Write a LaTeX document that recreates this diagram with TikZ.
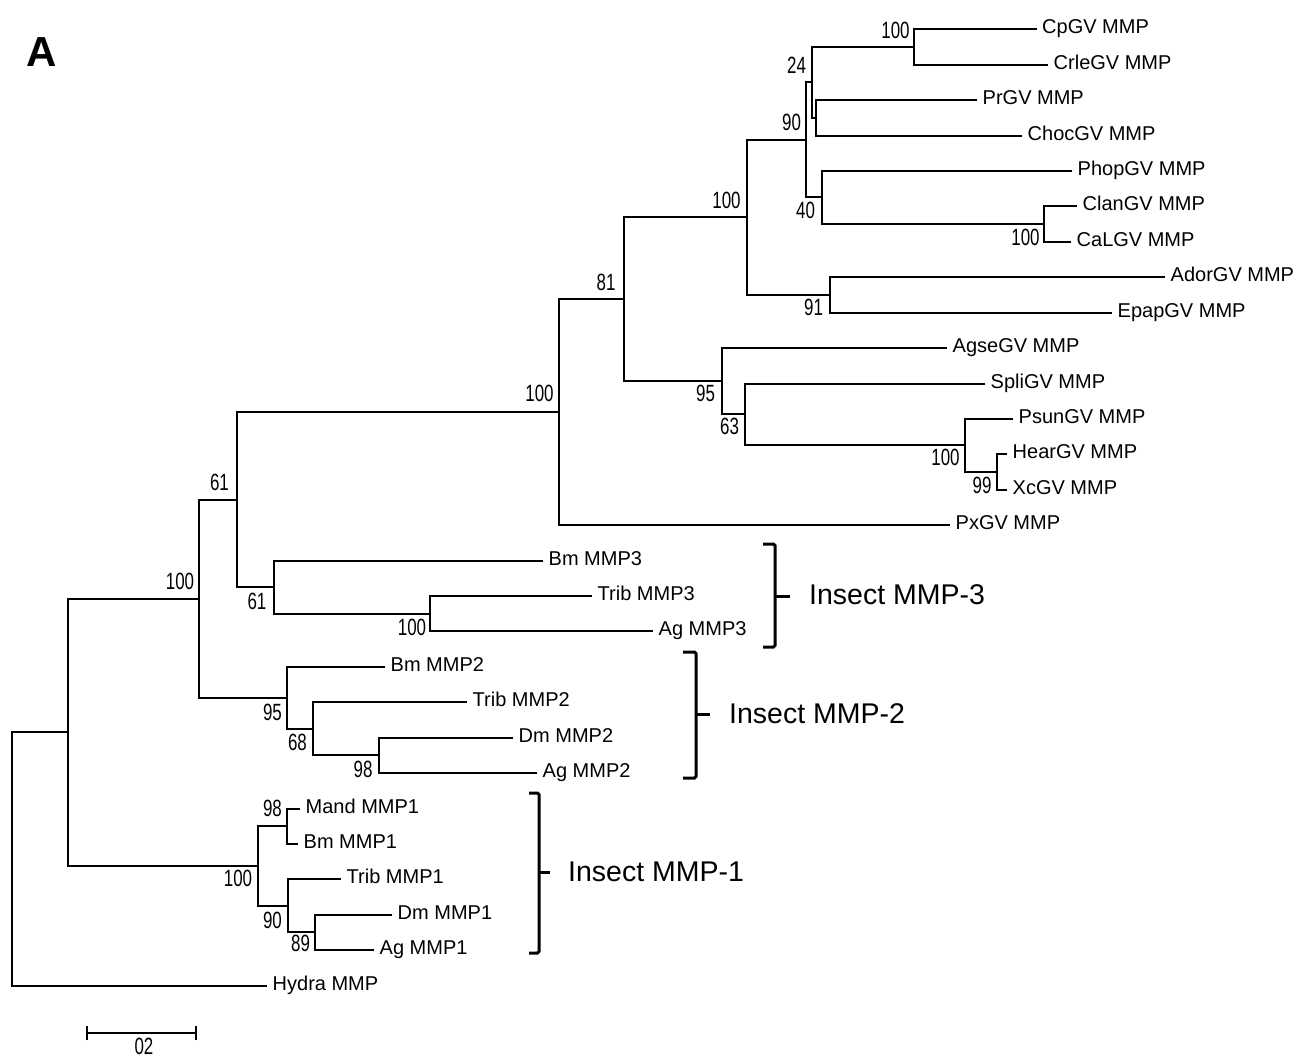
\documentclass[tikz,border=0pt]{standalone}
\usepackage{fontspec}
\setmainfont{Liberation Sans}
\newfontfamily\bsfont[FakeStretch=0.72]{Liberation Sans}
\begin{document}
\begin{tikzpicture}[x=1pt,y=-1pt,
  br/.style={line width=2pt, line join=miter},
  leaf/.style={anchor=west, inner xsep=5.5pt, inner ysep=0pt, text height=14pt, text depth=5pt, font=\fontsize{20}{20}\selectfont},
  bs/.style={inner sep=0pt, font=\bsfont\fontsize{23.5}{23.5}\selectfont},
  brk/.style={line width=3pt, rounded corners=1.5pt},
  grp/.style={anchor=west, inner sep=0pt, font=\fontsize{28.5}{30}\selectfont}]
\useasboundingbox (0,0) rectangle (1302,1059);
\fill[white] (0,0) rectangle (1302,1059);

% panel letter
\node[inner sep=0pt, font=\bfseries\fontsize{42}{42}\selectfont] (panelA) at (42,52.5) {A};

% leaves
\node[leaf] (L0)  at (1036.5,29)  {CpGV MMP};
\node[leaf] (L1)  at (1048,65)    {CrleGV MMP};
\node[leaf] (L2)  at (977,100)    {PrGV MMP};
\node[leaf] (L3)  at (1022,136)   {ChocGV MMP};
\node[leaf] (L4)  at (1072,171)   {PhopGV MMP};
\node[leaf] (L5)  at (1077,206)   {ClanGV MMP};
\node[leaf] (L6)  at (1071,242)   {CaLGV MMP};
\node[leaf] (L7)  at (1165,277)   {AdorGV MMP};
\node[leaf] (L8)  at (1112,313)   {EpapGV MMP};
\node[leaf] (L9)  at (947,348)    {AgseGV MMP};
\node[leaf] (L10) at (985,384)    {SpliGV MMP};
\node[leaf] (L11) at (1013,419)   {PsunGV MMP};
\node[leaf] (L12) at (1007,454)   {HearGV MMP};
\node[leaf] (L13) at (1007,490)   {XcGV MMP};
\node[leaf] (L14) at (950,525)    {PxGV MMP};
\node[leaf] (L15) at (543,561)    {Bm MMP3};
\node[leaf] (L16) at (592,596)    {Trib MMP3};
\node[leaf] (L17) at (653,631)    {Ag MMP3};
\node[leaf] (L18) at (385,667)    {Bm MMP2};
\node[leaf] (L19) at (467,702)    {Trib MMP2};
\node[leaf] (L20) at (513,738)    {Dm MMP2};
\node[leaf] (L21) at (537,773)    {Ag MMP2};
\node[leaf] (L22) at (300,809)    {Mand MMP1};
\node[leaf] (L23) at (298,844)    {Bm MMP1};
\node[leaf] (L24) at (341,879)    {Trib MMP1};
\node[leaf] (L25) at (392,915)    {Dm MMP1};
\node[leaf] (L26) at (374,950)    {Ag MMP1};
\node[leaf] (L27) at (267,986)    {Hydra MMP};

% internal nodes
\coordinate (nCp)   at (914,47);
\coordinate (nPr)   at (816,118);
\coordinate (n24)   at (812,82);
\coordinate (nClan) at (1044,224);
\coordinate (n40)   at (822,197);
\coordinate (n90)   at (806,140);
\coordinate (n91)   at (830,295);
\coordinate (n100d) at (747,217);
\coordinate (nHear) at (997,472);
\coordinate (nPsun) at (965,445);
\coordinate (n63)   at (745,414);
\coordinate (n95)   at (722,381);
\coordinate (n81)   at (624,299);
\coordinate (n100c) at (559,412);
\coordinate (nTrib) at (430,614);
\coordinate (n61b)  at (274,587);
\coordinate (n61a)  at (237,500);
\coordinate (nDm)   at (379,755);
\coordinate (n68)   at (313,729);
\coordinate (n95b)  at (287,698);
\coordinate (n100b) at (199,599);
\coordinate (nMand) at (287,826);
\coordinate (n89)   at (315,932);
\coordinate (n90b)  at (288,906);
\coordinate (n100m) at (258,866);
\coordinate (nA)    at (68,732);
\coordinate (nRoot) at (12,859);

% branches
\draw[br] (L0.west) -| (nCp) |- (L1.west);
\draw[br] (L2.west) -| (nPr) |- (L3.west);
\draw[br] (nCp) -| (n24) |- (nPr);
\draw[br] (L5.west) -| (nClan) |- (L6.west);
\draw[br] (L4.west) -| (n40) |- (nClan);
\draw[br] (n24) -| (n90) |- (n40);
\draw[br] (L7.west) -| (n91) |- (L8.west);
\draw[br] (n90) -| (n100d) |- (n91);
\draw[br] (L12.west) -| (nHear) |- (L13.west);
\draw[br] (L11.west) -| (nPsun) |- (nHear);
\draw[br] (L10.west) -| (n63) |- (nPsun);
\draw[br] (L9.west) -| (n95) |- (n63);
\draw[br] (n100d) -| (n81) |- (n95);
\draw[br] (n81) -| (n100c) |- (L14.west);
\draw[br] (L16.west) -| (nTrib) |- (L17.west);
\draw[br] (L15.west) -| (n61b) |- (nTrib);
\draw[br] (n100c) -| (n61a) |- (n61b);
\draw[br] (L20.west) -| (nDm) |- (L21.west);
\draw[br] (L19.west) -| (n68) |- (nDm);
\draw[br] (L18.west) -| (n95b) |- (n68);
\draw[br] (n61a) -| (n100b) |- (n95b);
\draw[br] (L22.west) -| (nMand) |- (L23.west);
\draw[br] (L25.west) -| (n89) |- (L26.west);
\draw[br] (L24.west) -| (n90b) |- (n89);
\draw[br] (nMand) -| (n100m) |- (n90b);
\draw[br] (n100b) -| (nA) |- (n100m);
\draw[br] (nA) -| (nRoot) |- (L27.west);

% bootstrap values
\node[bs] (s1)  at (895.5,30.5) {100};
\node[bs] (s2)  at (796.5,65)   {24};
\node[bs] (s3)  at (791.5,122)  {90};
\node[bs] (s4)  at (805.5,210)  {40};
\node[bs] (s5)  at (1025.5,237) {100};
\node[bs] (s6)  at (726.5,200)  {100};
\node[bs] (s7)  at (606,282)    {81};
\node[bs] (s8)  at (813.5,307)  {91};
\node[bs] (s9)  at (539.5,393)  {100};
\node[bs] (s10) at (705.5,393)  {95};
\node[bs] (s11) at (729.5,426)  {63};
\node[bs] (s12) at (945.5,457)  {100};
\node[bs] (s13) at (982,485)    {99};
\node[bs] (s14) at (219.5,482)  {61};
\node[bs] (s15) at (180,581)    {100};
\node[bs] (s16) at (257,601)    {61};
\node[bs] (s17) at (412,627)    {100};
\node[bs] (s18) at (272.5,712)  {95};
\node[bs] (s19) at (297.5,742)  {68};
\node[bs] (s20) at (363,769)    {98};
\node[bs] (s21) at (272.5,808)  {98};
\node[bs] (s22) at (238,878)    {100};
\node[bs] (s23) at (272.5,920)  {90};
\node[bs] (s24) at (300.5,943)  {89};

% group brackets
\coordinate (b3t) at (763,544);
\coordinate (b3b) at (763,647);
\coordinate (b3m) at (790,596);
\draw[brk] (b3t) -- (775,544) -- (775,647) -- (b3b);
\draw[line width=3pt] (775,596) -- (b3m);
\node[grp] (g3) at (809,595) {Insect MMP-3};

\coordinate (b2t) at (683,652);
\coordinate (b2b) at (683,778);
\coordinate (b2m) at (710,714);
\draw[brk] (b2t) -- (696,652) -- (696,778) -- (b2b);
\draw[line width=3pt] (696,714) -- (b2m);
\node[grp] (g2) at (729,714) {Insect MMP-2};

\coordinate (b1t) at (529,793);
\coordinate (b1b) at (529,953);
\coordinate (b1m) at (550,872);
\draw[brk] (b1t) -- (539,793) -- (539,953) -- (b1b);
\draw[line width=3pt] (539,872) -- (b1m);
\node[grp] (g1) at (568,872) {Insect MMP-1};

% scale bar
\coordinate (sbL) at (87,1033);
\coordinate (sbR) at (196,1033);
\draw[line width=2pt] (sbL) -- (sbR);
\draw[line width=2pt] ([yshift=-7pt]sbL) -- ([yshift=7pt]sbL);
\draw[line width=2pt] ([yshift=-7pt]sbR) -- ([yshift=7pt]sbR);
\node[bs] (sbt) at (144,1046.5) {02};
\end{tikzpicture}
\end{document}
